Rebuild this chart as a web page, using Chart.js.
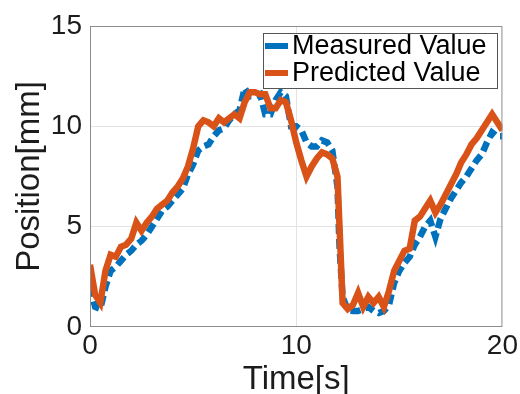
<!DOCTYPE html>
<html lang="en">
<head>
  <meta charset="UTF-8" />
  <title>Measured vs Predicted Position</title>
  <script src="https://cdn.jsdelivr.net/npm/chart.js"></script>
  <style>
    body {
      margin: 0;
      background: #fff;
    }
    #wrap {
      width: 520px;
      height: 394px;
    }
  </style>
</head>
<body>
  <div id="wrap"><canvas id="chart" width="520" height="394"></canvas></div>

  <script>
    // time axis (s) and the two traces (mm)
    const time = [
      0, 0.25, 0.5, 0.75, 1, 1.25, 1.5, 1.75, 2, 2.25, 2.5, 2.75, 3, 3.25, 3.5, 3.75,
      4, 4.25, 4.5, 4.75, 5, 5.25, 5.5, 5.75, 6, 6.25, 6.5, 6.75, 7, 7.25, 7.5, 7.75,
      8, 8.25, 8.5, 8.75, 9, 9.25, 9.5, 9.75, 10, 10.25, 10.5, 10.75, 11, 11.25, 11.5, 11.75,
      12, 12.1, 12.25, 12.5, 12.75, 13, 13.25, 13.5, 13.75, 14, 14.25, 14.5, 14.75,
      15, 15.25, 15.5, 15.75, 16, 16.25, 16.5, 16.75, 17, 17.25, 17.5, 17.75,
      18, 18.25, 18.5, 18.75, 19, 19.25, 19.5, 19.75, 20
    ];
    const measured = [
      2.0, 1.0, 0.9, 2.0, 2.8, 3.0, 3.3, 3.6, 3.8, 4.1, 4.3, 4.6, 5.0, 5.4, 5.8, 6.0,
      6.3, 6.6, 6.9, 7.6, 8.1, 8.8, 9.0, 9.1, 9.5, 9.8, 9.9, 10.3, 10.6, 10.8, 11.9, 11.5,
      11.5, 11.6, 10.6, 10.6, 11.3, 11.7, 11.5, 10.0, 10.0, 9.8, 9.2, 9.0, 9.0, 9.3, 9.2, 8.8,
      7.0, 4.0, 1.5, 0.85, 0.8, 0.8, 0.9, 1.0, 0.8, 0.7, 0.8, 1.1, 2.2,
      2.8, 3.2, 3.5, 4.1, 4.5, 5.0, 5.3, 4.5, 5.4, 5.9, 6.4, 6.8,
      7.2, 7.5, 7.9, 8.3, 8.6, 9.2, 9.7, 9.5, 9.5
    ];
    const predicted = [
      3.1, 1.6, 1.2, 2.8, 3.6, 3.5, 4.0, 4.1, 4.4, 5.2, 4.8, 5.2, 5.5, 5.9, 6.1, 6.3,
      6.7, 7.0, 7.4, 8.0, 8.9, 10.0, 10.3, 10.2, 10.0, 10.4, 10.2, 10.4, 10.6, 10.4, 11.2, 11.7,
      11.7, 11.6, 11.6, 10.9, 10.9, 11.3, 11.2, 10.3, 9.2, 8.3, 7.5, 8.0, 8.4, 8.7, 8.6, 8.4,
      7.5, 5.0, 1.2, 0.9, 1.1, 1.7, 1.0, 1.5, 1.2, 1.5, 1.0, 1.8, 2.8,
      3.3, 3.8, 3.9, 5.3, 5.5, 5.9, 6.3, 5.7, 6.1, 6.6, 7.1, 7.6,
      8.2, 8.6, 9.1, 9.4, 9.8, 10.2, 10.6, 10.2, 9.8
    ];
    const xTicks = [0, 10, 20];
    const yTicks = [0, 5, 10, 15];

    const FONT = "'Liberation Sans', Arial, sans-serif";
    const BLUE = "#0072BD";
    const ORANGE = "#D95319";
    const TEXT = "#1c1c1c";

    function pts(ys) {
      return time.map((t, i) => ({ x: t, y: ys[i] }));
    }

    // box around the plot + legend inside the top right corner
    const boxAndLegend = {
      id: "boxAndLegend",
      afterDatasetsDraw(chart) {
        const { ctx, chartArea: a } = chart;
        ctx.save();
        ctx.strokeStyle = "#8c8c8c";
        ctx.lineWidth = 1;
        ctx.strokeRect(a.left + 0.5, a.top + 0.5, a.right - a.left - 1, a.bottom - a.top - 1);

        // legend
        const lx = 263, ly = 33, lw = 234, lh = 55;
        ctx.fillStyle = "#fff";
        ctx.fillRect(lx, ly, lw, lh);
        ctx.strokeStyle = "#555";
        ctx.strokeRect(lx + 0.5, ly + 0.5, lw, lh);
        ctx.font = "27px " + FONT;
        ctx.textBaseline = "middle";
        chart.data.datasets.forEach((ds, i) => {
          const y = 46 + i * 27;
          ctx.strokeStyle = ds.borderColor;
          ctx.lineWidth = 6;
          ctx.beginPath();
          ctx.moveTo(265, y);
          ctx.lineTo(288, y);
          ctx.stroke();
          ctx.fillStyle = "#000";
          ctx.fillText(ds.label, 292, y + 1);
        });
        ctx.restore();
      }
    };

    const gridColor = (ctx, ends) =>
      ends.includes(ctx.tick.value) ? "rgba(0,0,0,0)" : "#e3e3e3";

    new Chart(document.getElementById("chart"), {
      type: "line",
      data: {
        datasets: [
          {
            label: "Measured Value",
            data: pts(measured),
            borderColor: BLUE,
            borderWidth: 6.5,
            borderDash: [10, 5],
            pointRadius: 0,
            tension: 0,
            order: 2
          },
          {
            label: "Predicted Value",
            data: pts(predicted),
            borderColor: ORANGE,
            borderWidth: 6.5,
            pointRadius: 0,
            tension: 0,
            order: 1
          }
        ]
      },
      options: {
        responsive: false,
        animation: false,
        layout: { padding: { top: 26, right: 17, left: 0, bottom: 0 } },
        plugins: {
          legend: { display: false },
          tooltip: { enabled: false }
        },
        scales: {
          x: {
            type: "linear",
            min: 0,
            max: 20,
            afterBuildTicks: (s) => { s.ticks = xTicks.map((v) => ({ value: v })); },
            afterFit: (s) => { s.height = 67; },
            grid: { color: (c) => gridColor(c, [0, 20]), drawTicks: false },
            border: { display: false },
            ticks: {
              color: TEXT,
              padding: 2,
              maxRotation: 0,
              font: { family: FONT, size: 28 }
            },
            title: {
              display: true,
              text: "Time[s]",
              color: TEXT,
              padding: { top: 0, bottom: -2 },
              font: { family: FONT, size: 33, lineHeight: 1 }
            }
          },
          y: {
            min: 0,
            max: 15,
            afterBuildTicks: (s) => { s.ticks = yTicks.map((v) => ({ value: v })); },
            afterFit: (s) => { s.width = 90; },
            grid: { color: (c) => gridColor(c, [0, 15]), drawTicks: false },
            border: { display: false },
            ticks: {
              color: TEXT,
              padding: 8,
              font: { family: FONT, size: 28 }
            },
            title: {
              display: true,
              text: "Position[mm]",
              color: TEXT,
              padding: { top: 13, bottom: 0 },
              font: { family: FONT, size: 33, lineHeight: 1 }
            }
          }
        }
      },
      plugins: [boxAndLegend]
    });
  </script>
</body>
</html>
